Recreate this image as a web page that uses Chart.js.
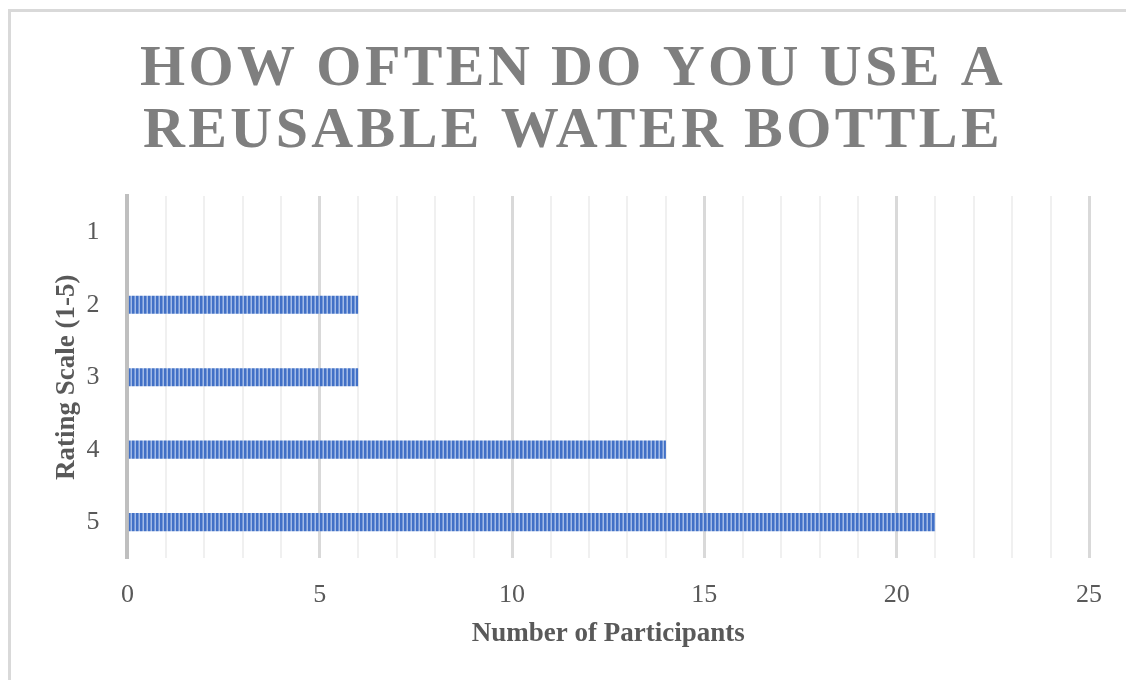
<!DOCTYPE html>
<html>
<head>
<meta charset="utf-8">
<script src="https://cdn.jsdelivr.net/npm/chart.js@4.4.1/dist/chart.umd.min.js"></script>
<style>
    html, body { margin: 0; padding: 0; background: #ffffff; }
    #marco {
        position: absolute; left: 0; top: 0; width: 1126px; height: 680px;
        overflow: hidden; background: #ffffff;
    }
    #borde {
        position: absolute; left: 8px; top: 9px; width: 1140px; height: 700px;
        border: 3px solid #d9d9d9; box-sizing: border-box;
    }
    #graficoBarras { position: absolute; left: 0; top: 0; }
</style>
</head>
<body>
<div id="marco">
    <div id="borde"></div>
    <canvas id="graficoBarras" width="1126" height="680"></canvas>
</div>
<script>
// Datos del gráfico
const categorias = ['1', '2', '3', '4', '5'];
const participantes = [0, 6, 6, 14, 21];
const lineasTitulo = ['HOW OFTEN DO YOU USE A', 'REUSABLE WATER BOTTLE'];
const tituloEjeX = 'Number of Participants';
const tituloEjeY = 'Rating Scale (1-5)';

// Patrón de rayas verticales para las barras
function crearPatron() {
    const c = document.createElement('canvas');
    c.width = 4; c.height = 4;
    const g = c.getContext('2d');
    g.fillStyle = '#4170c6';
    g.fillRect(0, 0, 4, 4);
    g.fillStyle = '#7397d8';
    g.fillRect(2, 0, 1, 4);
    g.fillStyle = '#a3bbe6';
    g.fillRect(3, 0, 1, 4);
    return g.createPattern(c, 'repeat');
}

// Título con espaciado de letras, dibujado a mano
const pluginTitulo = {
    id: 'tituloEspaciado',
    afterDraw(chart) {
        const ctx = chart.ctx;
        ctx.save();
        ctx.font = 'bold 58px "Liberation Serif", "Times New Roman", serif';
        ctx.fillStyle = '#7f7f7f';
        ctx.textAlign = 'center';
        ctx.textBaseline = 'alphabetic';
        if ('letterSpacing' in ctx) ctx.letterSpacing = '3.4px';
        const cx = 573;
        ctx.fillText(lineasTitulo[0], cx, 85);
        ctx.fillText(lineasTitulo[1], cx, 147);
        ctx.restore();
    }
};

const fuenteSerif = '"Liberation Serif", "Times New Roman", serif';

document.addEventListener('DOMContentLoaded', () => {
    const ctx = document.getElementById('graficoBarras').getContext('2d');
    new Chart(ctx, {
        type: 'bar',
        data: {
            labels: categorias,
            datasets: [{
                label: tituloEjeX,
                data: participantes,
                backgroundColor: crearPatron(),
                borderWidth: 0,
                barPercentage: 0.5,
                categoryPercentage: 0.5
            }]
        },
        options: {
            indexAxis: 'y',
            responsive: false,
            animation: false,
            maintainAspectRatio: false,
            layout: { padding: { top: 196, right: 37, bottom: 30, left: 47 } },
            plugins: {
                legend: { display: false },
                tooltip: { enabled: false }
            },
            scales: {
                x: {
                    min: 0,
                    max: 25,
                    ticks: {
                        stepSize: 1,
                        autoSkip: false,
                        maxRotation: 0,
                        padding: 21,
                        color: '#595959',
                        font: { family: fuenteSerif, size: 26 },
                        callback: v => (v % 5 === 0 ? v : '')
                    },
                    grid: {
                        drawTicks: false,
                        color: c => (c.tick && c.tick.value % 5 === 0 ? '#d9d9d9' : '#f0f0f0'),
                        lineWidth: c => (c.tick && c.tick.value % 5 === 0 ? 3 : 2)
                    },
                    border: { display: false },
                    title: {
                        display: true,
                        text: tituloEjeX,
                        color: '#595959',
                        font: { family: fuenteSerif, size: 27, weight: 'bold' },
                        padding: { top: -14, bottom: 0 }
                    }
                },
                y: {
                    ticks: {
                        padding: 28,
                        color: '#595959',
                        font: { family: fuenteSerif, size: 26 }
                    },
                    grid: { display: false, drawTicks: false },
                    border: { display: true, color: '#bfbfbf', width: 4 },
                    title: {
                        display: true,
                        text: tituloEjeY,
                        color: '#595959',
                        font: { family: fuenteSerif, size: 27, weight: 'bold' },
                        padding: { top: 4, bottom: -25 }
                    }
                }
            }
        },
        plugins: [pluginTitulo]
    });
});
</script>
</body>
</html>
